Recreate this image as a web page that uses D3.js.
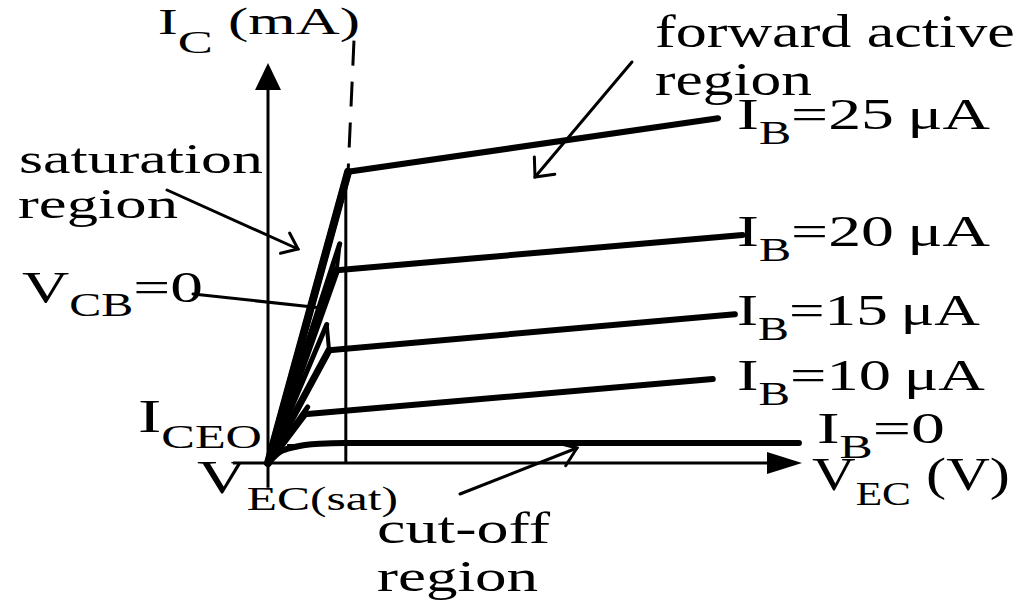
<!DOCTYPE html>
<html><head><meta charset="utf-8">
<script src="https://cdn.jsdelivr.net/npm/d3@7"></script>
<style>
body{margin:0;background:#fff}
svg{display:block}
text{font-family:"Liberation Serif","Times New Roman",serif;fill:#000}
</style>
</head><body><svg id="c" width="1033" height="603"></svg>
<script>
// ---- data (V_EC in V, I_C in mA) ----
const ibLabels = ["25", "20", "15", "10"];
const kneeV = [1.05, 0.90, 0.80, 0.48];
const kneeI = [3.64, 2.41, 1.41, 0.61];
const endV  = [5.90, 6.22, 6.12, 5.83];
const endI  = [4.31, 2.85, 1.86, 1.05];
const stubV = [1.05, 0.94, 0.77, 0.52];
const stubI = [3.64, 2.74, 1.73, 0.70];
const cutoffV = [0, 0.16, 0.35, 0.68, 1.0, 6.96];
const cutoffI = [0, 0.14, 0.20, 0.24, 0.25, 0.25];
const vcbLineV = [1.05, 1.127];
const vcbLineI = [3.64, 5.28];
const vecSat = 1.02;
const iceoV = [0.25, 0.54];
const iceoI = [0.225, 0.225];
const axisMaxV = 7, axisMaxI = 5;
const axisMinV = -0.46, axisMinI = -0.31;

// ---- scales ----
const x = d3.scaleLinear().domain([0, axisMaxV]).range([268, 802]);
const y = d3.scaleLinear().domain([0, axisMaxI]).range([463, 63]);
const svg = d3.select("#c");
const line = d3.line().x(d => x(d[0])).y(d => y(d[1]));

// ---- axes ----
svg.append("line").attr("x1", x(axisMinV)).attr("x2", x(axisMaxV) - 20)
  .attr("y1", y(0)).attr("y2", y(0)).attr("stroke", "#000").attr("stroke-width", 3);
svg.append("line").attr("x1", x(0)).attr("x2", x(0))
  .attr("y1", y(axisMinI)).attr("y2", y(axisMaxI) + 20).attr("stroke", "#000").attr("stroke-width", 3);
svg.append("path").attr("fill", "#000")
  .attr("d", `M${x(axisMaxV)},${y(0)} L${x(axisMaxV) - 35},${y(0) - 11} L${x(axisMaxV) - 35},${y(0) + 11} Z`);
svg.append("path").attr("fill", "#000")
  .attr("d", `M${x(0)},${y(axisMaxI)} L${x(0) - 13},${y(axisMaxI) + 27} L${x(0) + 13},${y(axisMaxI) + 27} Z`);

// V_EC(sat) vertical line
svg.append("line").attr("x1", x(vecSat)).attr("x2", x(vecSat))
  .attr("y1", y(0)).attr("y2", y(kneeI[0])).attr("stroke", "#000").attr("stroke-width", 3);

// V_CB = 0 dashed boundary
svg.append("path").attr("d", line([[vcbLineV[1], vcbLineI[1]], [vcbLineV[0], vcbLineI[0]]]))
  .attr("fill", "none").attr("stroke", "#000").attr("stroke-width", 3)
  .attr("stroke-dasharray", "25,16");

// ---- characteristic curves ----
ibLabels.forEach((lb, i) => {
  svg.append("path").attr("d", line([[0, 0], [stubV[i], stubI[i]]]))
    .attr("fill", "none").attr("stroke", "#000").attr("stroke-width", 5)
    .attr("stroke-linecap", "round");
  svg.append("path").attr("d", line([[0, 0], [kneeV[i], kneeI[i]]]))
    .attr("fill", "none").attr("stroke", "#000").attr("stroke-width", 7)
    .attr("stroke-linecap", "round");
  svg.append("path").attr("d", line([[kneeV[i], kneeI[i]], [endV[i], endI[i]]]))
    .attr("fill", "none").attr("stroke", "#000").attr("stroke-width", 6)
    .attr("stroke-linecap", "round").attr("stroke-linejoin", "round");
  svg.append("path").attr("d", line([[kneeV[i], kneeI[i]], [stubV[i], stubI[i]]]))
    .attr("fill", "none").attr("stroke", "#000").attr("stroke-width", 4)
    .attr("stroke-linecap", "round");
});
svg.append("path").attr("d", line([[0, 0], [kneeV[0], kneeI[0]]]))
  .attr("fill", "none").attr("stroke", "#000").attr("stroke-width", 8).attr("stroke-linecap", "round");
svg.append("path").attr("d", d3.line().x(d => x(d[0])).y(d => y(d[1])).curve(d3.curveMonotoneX)(cutoffV.map((v, i) => [v, cutoffI[i]])))
  .attr("fill", "none").attr("stroke", "#000").attr("stroke-width", 6).attr("stroke-linecap", "round");
svg.append("path").attr("d", line(iceoV.map((v, i) => [v, iceoI[i]])))
  .attr("fill", "none").attr("stroke", "#000").attr("stroke-width", 2);

// ---- annotation arrows (data coords) ----
const arrows = [
  {from: [-1.324, 3.4125], to: [0.393, 2.675], head: true, spread: 38, len: 18},
  {from: [4.771, 5.0125], to: [3.50, 3.575], head: true, spread: 42, len: 20},
  {from: [2.517, -0.3875], to: [4.050, 0.1875], head: true, spread: 36, len: 21},
  {from: [-0.983, 2.1125], to: [0.708, 1.9375], head: false}
];
arrows.forEach(a => {
  const x1 = x(a.from[0]), y1 = y(a.from[1]), x2 = x(a.to[0]), y2 = y(a.to[1]);
  svg.append("line").attr("x1", x1).attr("y1", y1).attr("x2", x2).attr("y2", y2)
    .attr("stroke", "#000").attr("stroke-width", 3).attr("stroke-linecap", "round");
  if (a.head) {
    const ang = Math.atan2(y1 - y2, x1 - x2), s = a.spread * Math.PI / 180;
    const p1 = [x2 + a.len * Math.cos(ang + s), y2 + a.len * Math.sin(ang + s)];
    const p2 = [x2 + a.len * Math.cos(ang - s), y2 + a.len * Math.sin(ang - s)];
    svg.append("path").attr("d", `M${p1[0]},${p1[1]} L${x2},${y2} L${p2[0]},${p2[1]}`)
      .attr("fill", "none").attr("stroke", "#000").attr("stroke-width", 3)
      .attr("stroke-linecap", "round").attr("stroke-linejoin", "miter");
  }
});

// ---- text labels ----
function label(px, py, w, parts) {
  const g = svg.append("g");
  const t = g.append("text").attr("x", 0).attr("y", 0);
  parts.forEach(p => {
    t.append("tspan").attr("font-size", p[1]).attr("dy", p[2]).text(p[0]);
  });
  const bw = t.node().getComputedTextLength();
  g.attr("transform", `translate(${px},${py}) scale(${w / bw},1)`);
}
const ibEnd = [990, 990, 980, 985];
ibLabels.forEach((lb, i) => {
  label(737, y(endI[i]) + 11, ibEnd[i] - 737,
    [["I", 45, 0], ["B", 33, 15], ["=" + lb + "\u2009\u03bcA", 45, -15]]);
});
label(817, y(cutoffI[cutoffI.length - 1]), 128, [["I", 45, 0], ["B", 33, 15], ["=0", 45, -15]]);

label(158, 34, 202, [["I", 36, 0], ["C", 32, 19], [" (mA)", 37, -19]]);
label(812, 490, 198, [["V", 46, 0], ["EC", 33, 15], [" (V)", 46, -15]]);
label(655, 47, 360, [["forward active", 47, 0]]);
label(655, 95, 157, [["region", 47, 0]]);
label(19, 173, 244, [["saturation", 43, 0]]);
label(18, 218, 160, [["region", 43, 0]]);
label(22, 302, 181, [["V", 45, 0], ["CB", 33, 14], ["=0", 45, -14]]);
label(138, 432, 124, [["I", 46, 0], ["CEO", 33, 16]]);
label(197, 493, 201, [["V", 46, 0], ["EC(sat)", 33, 17]]);
label(377, 543, 173, [["cut-off", 45, 0]]);
label(377, 591, 161, [["region", 45, 0]]);
</script>
</body></html>
